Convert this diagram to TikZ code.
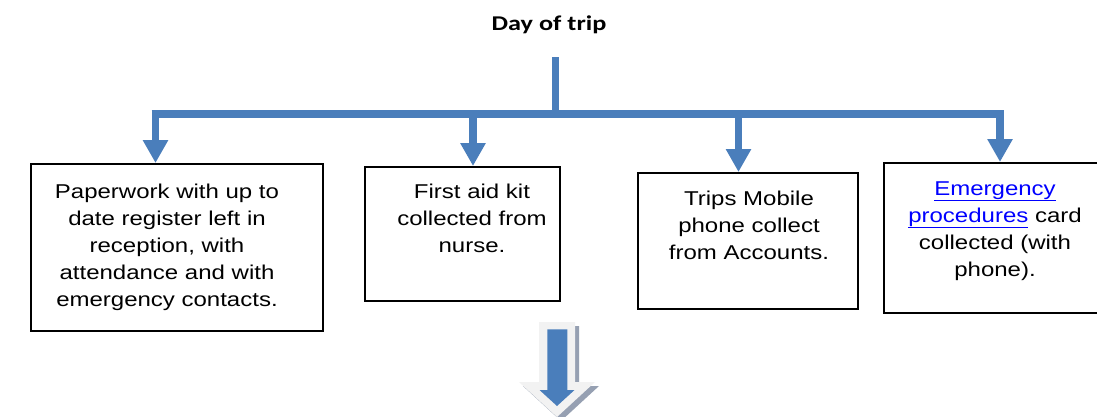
\documentclass[tikz,border=0pt]{standalone}
\usepackage{fontspec}
\setmainfont{Liberation Sans}[FakeStretch=1.2]
\newfontfamily\titlefont{Carlito}[FakeStretch=1.25]
\usetikzlibrary{arrows.meta,calc}
\definecolor{flowblue}{RGB}{74,126,187}
\definecolor{linkblue}{RGB}{0,0,255}
\definecolor{arrowpale}{RGB}{242,242,242}
\definecolor{arrowshadow}{RGB}{150,160,178}
\tikzset{
  infobox/.style={draw=black, line width=2pt, rectangle, inner sep=0pt, anchor=north west},
  infotext/.style={align=center, anchor=base, inner sep=0pt, font=\fontsize{20}{27}\selectfont},
  branch/.style={draw=flowblue, line width=7.5pt, -{Triangle[width=24pt,length=23pt]}},
}
\begin{document}
\begin{tikzpicture}[x=1pt,y=-1pt]
\useasboundingbox (0,0) rectangle (1097,416);
\fill[white] (0,0) rectangle (1097,416);

\node[anchor=base, inner sep=0pt, font=\titlefont\bfseries\fontsize{21}{25}\selectfont] (title) at (549,30.7) {Day of trip};

\node[infobox, minimum width=292pt, minimum height=167pt] (b1) at (30,163) {};
\node[infobox, minimum width=195pt, minimum height=134pt] (b2) at (364,166) {};
\node[infobox, minimum width=220pt, minimum height=136pt] (b3) at (637,172) {};
\node[infobox, minimum width=216pt, minimum height=150pt] (b4) at (883,162) {};

\node[infotext] (t1) at (167,306) {Paperwork with up to\\date register left in\\reception, with\\attendance and with\\emergency contacts.};
\node[infotext] (t2) at (472,252.5) {First aid kit\\collected from\\nurse.};
\node[infotext] (t3) at (749,259) {Trips Mobile\\phone collect\\from Accounts.};
\node[infotext] (t4) at (995,276) {\textcolor{linkblue}{\underline{Emergency}}\\\textcolor{linkblue}{\underline{procedures}} card\\collected (with\\phone).};

\coordinate (stemtop) at (555.5,57);
\coordinate (hub) at (555.5,114);
\draw[flowblue, line width=7.5pt] (stemtop) -- (hub);
\draw[flowblue, line width=8pt] (151.5,114) -- (1004,114);
\draw[branch] (hub) -| ([xshift=125.5pt]b1.north west);
\draw[branch] (hub) -| ([xshift=109pt]b2.north west);
\draw[branch] (hub) -| ([xshift=101.5pt]b3.north west);
\draw[branch] (hub) -| ([xshift=117pt]b4.north west);

% bottom block arrow
\fill[arrowshadow] (543,326) -- (579,326) -- (579,386) -- (599,386) -- (561,421) -- (523,386) -- (543,386) -- cycle;
\fill[arrowpale] (539,322) -- (575,322) -- (575,382) -- (595,382) -- (557,417) -- (519,382) -- (539,382) -- cycle;
\fill[flowblue] (547.3,329.3) -- (567.3,329.3) -- (567.3,390) -- (574.5,390) -- (557,406) -- (539.5,390) -- (547.3,390) -- cycle;
\end{tikzpicture}
\end{document}
